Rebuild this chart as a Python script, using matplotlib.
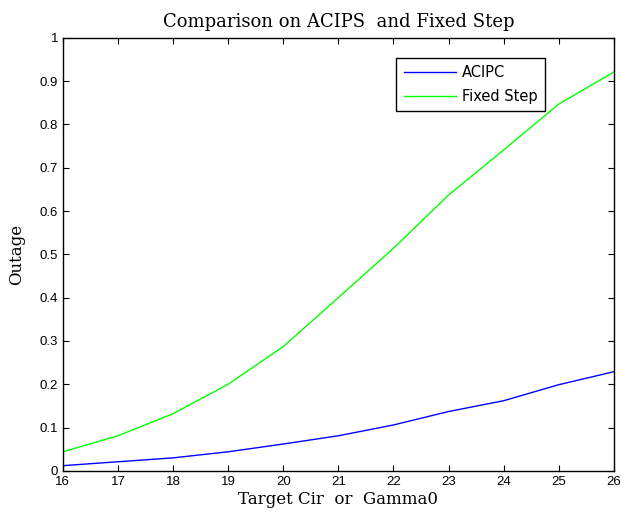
import matplotlib
matplotlib.use("Agg")
import matplotlib.pyplot as plt

gamma0 = [16, 17, 18, 19, 20, 21, 22, 23, 24, 25, 26]
acipc = [0.012, 0.021, 0.030, 0.044, 0.062, 0.081, 0.106, 0.137, 0.162, 0.199, 0.229]
fixed_step = [0.044, 0.081, 0.132, 0.200, 0.287, 0.400, 0.514, 0.637, 0.741, 0.847, 0.921]

serif = "DejaVu Serif"
sans = "Liberation Sans"

fig = plt.figure(figsize=(6.22, 5.18), dpi=100)
ax = fig.add_axes([0.101, 0.091, 0.886, 0.836])

ax.plot(gamma0, acipc, color="#0000ff", lw=1.0, label="ACIPC")
ax.plot(gamma0, fixed_step, color="#00ff00", lw=1.0, label="Fixed Step")

ax.set_xlim(16, 26)
ax.set_ylim(0, 1)
ax.set_xticks(range(16, 27))
ax.set_yticks([i / 10 for i in range(11)])
ax.set_yticklabels(["0", "0.1", "0.2", "0.3", "0.4", "0.5", "0.6", "0.7", "0.8", "0.9", "1"])
ax.tick_params(direction="in", length=4, width=0.8, labelsize=9.5, top=True, right=True)
for lbl in ax.get_xticklabels() + ax.get_yticklabels():
    lbl.set_family(sans)
for s in ax.spines.values():
    s.set_linewidth(1.0)

ax.set_title("Comparison on ACIPS  and Fixed Step", family=serif, fontsize=13, pad=8)
ax.set_xlabel("Target Cir  or  Gamma0", family=serif, fontsize=12, labelpad=2)
ax.set_ylabel("Outage", family=serif, fontsize=12, labelpad=10)

leg = ax.legend(loc="upper right", bbox_to_anchor=(0.875, 0.954), prop={"family": "DejaVu Sans", "size": 10.5},
                fancybox=False, framealpha=1, edgecolor="black", borderaxespad=0,
                handlelength=3.6, handletextpad=0.4, borderpad=0.5, labelspacing=0.6)
leg.get_frame().set_linewidth(1.0)

fig.savefig("out.png", dpi=100)
